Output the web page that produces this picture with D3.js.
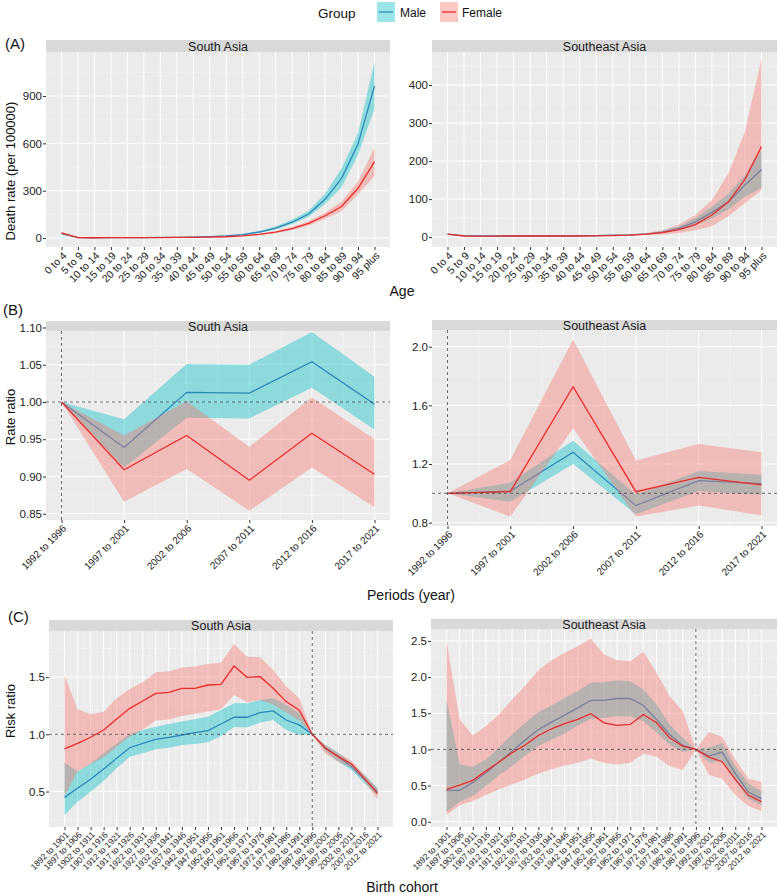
<!DOCTYPE html>
<html>
<head>
<meta charset="utf-8">
<script src="https://cdn.jsdelivr.net/npm/d3@7/dist/d3.min.js"></script>
<style>
  body { margin: 0; background: #fff; }
  text { font-family: "Liberation Sans", Arial, sans-serif; }
</style>
</head>
<body>
<div id="chart"></div>
<script>
// ---- categories ----
const ageGroups = ["0 to 4","5 to 9","10 to 14","15 to 19","20 to 24","25 to 29","30 to 34","35 to 39","40 to 44","45 to 49",
  "50 to 54","55 to 59","60 to 64","65 to 69","70 to 74","75 to 79","80 to 84","85 to 89","90 to 94","95 plus"];
const periods = ["1992 to 1996","1997 to 2001","2002 to 2006","2007 to 2011","2012 to 2016","2017 to 2021"];
const cohorts = ["1892 to 1901","1897 to 1906","1902 to 1911","1907 to 1916","1912 to 1921","1917 to 1926","1922 to 1931",
  "1927 to 1936","1932 to 1941","1937 to 1946","1942 to 1951","1947 to 1956","1952 to 1961","1957 to 1966","1962 to 1971",
  "1967 to 1976","1972 to 1981","1977 to 1986","1982 to 1991","1987 to 1996","1992 to 2001","1997 to 2006","2002 to 2011",
  "2007 to 2016","2012 to 2021"];
const groups = ["Male", "Female"];

// ---- (A) age effect, death rate per 100000 ----
const saAgeMale     = [28, 2, 1.5, 2, 2.5, 3, 3.5, 4.5, 6, 9, 14, 22, 38, 63, 100, 152, 245, 378, 595, 963];
const saAgeMaleHi   = [33, 2.5, 1.9, 2.5, 3.1, 3.7, 4.3, 5.5, 7.2, 10.8, 16.5, 26, 44, 73, 115, 172, 280, 440, 665, 1115];
const saAgeMaleLo   = [24, 1.6, 1.2, 1.6, 2, 2.4, 2.8, 3.6, 4.9, 7.4, 11.6, 18, 32, 54, 88, 135, 215, 322, 528, 820];
const saAgeFemale   = [33, 2, 1.5, 2, 2.5, 3, 3, 3.5, 4.5, 6, 8, 14, 23, 37, 60, 93, 141, 200, 315, 484];
const saAgeFemaleHi = [38, 2.5, 1.9, 2.5, 3.1, 3.7, 3.7, 4.3, 5.5, 7.2, 9.6, 16.5, 27, 43, 70, 106, 160, 230, 358, 572];
const saAgeFemaleLo = [28, 1.6, 1.2, 1.6, 2, 2.4, 2.4, 2.8, 3.7, 5, 6.6, 11.6, 19, 31, 51, 80, 122, 170, 278, 392];

const seaAgeMale     = [8, 3.5, 3, 3, 3, 3, 3, 3, 3.5, 4, 5, 6, 8, 13, 23, 40, 65, 93, 137, 178];
const seaAgeMaleHi   = [9, 4, 3.5, 3.5, 3.5, 3.5, 3.5, 3.5, 4, 4.6, 5.8, 7, 9.5, 16, 28, 50, 80, 115, 163, 228];
const seaAgeMaleLo   = [7, 3, 2.6, 2.6, 2.6, 2.6, 2.6, 2.6, 3, 3.5, 4.3, 5.1, 6.8, 10.5, 18, 31, 49, 73, 106, 130];
const seaAgeFemale   = [8, 3, 2.5, 2.5, 3, 3, 3, 3, 3, 3.5, 4, 5, 8, 12, 20, 33, 58, 93, 152, 238];
const seaAgeFemaleHi = [9, 4, 3.2, 3.3, 3.6, 3.6, 3.6, 3.6, 3.7, 4.3, 5, 6.5, 10.5, 18, 33, 58, 97, 168, 277, 470];
const seaAgeFemaleLo = [7, 2.3, 2, 2, 2.4, 2.4, 2.4, 2.4, 2.4, 2.8, 3.2, 3.8, 5.5, 7, 11, 18, 29, 55, 89, 124];

// ---- (B) period effect, rate ratio ----
const saPerMale     = [1.0, 0.939, 1.013, 1.012, 1.054, 0.997];
const saPerMaleHi   = [1.0, 0.977, 1.051, 1.050, 1.094, 1.034];
const saPerMaleLo   = [1.0, 0.912, 0.979, 0.978, 1.019, 0.963];
const saPerFemale   = [1.0, 0.909, 0.955, 0.895, 0.958, 0.903];
const saPerFemaleHi = [1.0, 0.955, 1.001, 0.940, 1.006, 0.950];
const saPerFemaleLo = [1.0, 0.866, 0.910, 0.854, 0.912, 0.859];

const seaPerMale     = [1.0, 1.015, 1.28, 0.916, 1.086, 1.066];
const seaPerMaleHi   = [1.0, 1.073, 1.359, 0.99, 1.152, 1.127];
const seaPerMaleLo   = [1.0, 0.943, 1.200, 0.857, 1.016, 0.99];
const seaPerFemale   = [1.0, 1.011, 1.727, 1.011, 1.109, 1.057];
const seaPerFemaleHi = [1.0, 1.227, 2.05, 1.223, 1.336, 1.28];
const seaPerFemaleLo = [1.0, 0.841, 1.443, 0.841, 0.916, 0.850];

// ---- (C) cohort effect, risk ratio ----
const saCohMale     = [0.449, 0.528, 0.607, 0.697, 0.79, 0.883, 0.921, 0.956, 0.974, 0.994, 1.015, 1.032, 1.09, 1.149, 1.149,
  1.189, 1.204, 1.125, 1.082, 1.0, 0.883, 0.805, 0.717, 0.607, 0.499];
const saCohMaleHi   = [0.752, 0.674, 0.746, 0.834, 0.921, 1.003, 1.038, 1.067, 1.09, 1.111, 1.131, 1.154, 1.213, 1.271, 1.271,
  1.3, 1.315, 1.256, 1.184, 1.0, 0.907, 0.84, 0.752, 0.645, 0.534];
const saCohMaleLo   = [0.295, 0.411, 0.499, 0.592, 0.703, 0.805, 0.834, 0.869, 0.883, 0.907, 0.916, 0.93, 0.985, 1.061, 1.061,
  1.102, 1.125, 1.038, 0.994, 1.0, 0.854, 0.761, 0.688, 0.572, 0.461];
const saCohFemale   = [0.872, 0.921, 0.974, 1.038, 1.134, 1.227, 1.291, 1.358, 1.367, 1.402, 1.402, 1.431, 1.437, 1.597, 1.498,
  1.504, 1.402, 1.286, 1.21, 1.0, 0.878, 0.805, 0.741, 0.615, 0.484];
const saCohFemaleHi = [1.519, 1.219, 1.175, 1.198, 1.315, 1.396, 1.455, 1.542, 1.548, 1.583, 1.592, 1.615, 1.626, 1.79, 1.679,
  1.673, 1.562, 1.417, 1.315, 1.0, 0.907, 0.834, 0.77, 0.645, 0.528];
const saCohFemaleLo = [0.46, 0.674, 0.74, 0.80, 0.89, 0.98, 1.04, 1.12, 1.13, 1.16, 1.18, 1.20, 1.22, 1.344, 1.28,
  1.30, 1.26, 1.19, 1.12, 1.0, 0.83, 0.76, 0.71, 0.59, 0.43];

const seaCohMale     = [0.434, 0.434, 0.54, 0.678, 0.825, 0.977, 1.129, 1.276, 1.378, 1.474, 1.575, 1.677, 1.677, 1.704, 1.704,
  1.608, 1.414, 1.207, 1.055, 1.0, 0.908, 0.963, 0.668, 0.411, 0.319];
const seaCohMaleHi   = [1.69, 0.793, 0.756, 0.862, 1.023, 1.207, 1.368, 1.516, 1.608, 1.714, 1.806, 1.921, 1.93, 1.953, 1.944,
  1.829, 1.622, 1.345, 1.161, 1.0, 1.023, 1.092, 0.77, 0.53, 0.424];
const seaCohMaleLo   = [0.134, 0.273, 0.355, 0.494, 0.641, 0.77, 0.917, 1.046, 1.138, 1.221, 1.331, 1.424, 1.437, 1.46, 1.46,
  1.391, 1.23, 1.069, 0.963, 1.0, 0.816, 0.839, 0.563, 0.319, 0.227];
const seaCohFemale   = [0.448, 0.507, 0.572, 0.70, 0.825, 0.954, 1.06, 1.193, 1.285, 1.355, 1.414, 1.493, 1.368, 1.331, 1.345,
  1.483, 1.368, 1.161, 1.046, 1.0, 0.894, 0.83, 0.586, 0.365, 0.277];
const seaCohFemaleHi = [2.496, 1.414, 1.193, 1.322, 1.483, 1.69, 1.884, 2.096, 2.234, 2.335, 2.427, 2.533, 2.312, 2.234, 2.22,
  2.349, 2.059, 1.737, 1.529, 1.0, 1.239, 1.175, 0.862, 0.595, 0.549];
const seaCohFemaleLo = [0.093, 0.227, 0.286, 0.369, 0.448, 0.517, 0.586, 0.668, 0.724, 0.779, 0.816, 0.871, 0.816, 0.793, 0.816,
  0.94, 0.899, 0.77, 0.715, 1.0, 0.645, 0.595, 0.369, 0.217, 0.148];

// ---- tick labels ----
const saAgeTicks = [0, 300, 600, 900];
const seaAgeTicks = [0, 100, 200, 300, 400];
const saPerTicks = [0.85, 0.90, 0.95, 1.00, 1.05, 1.10];
const seaPerTicks = [0.8, 1.2, 1.6, 2.0];
const saCohTicks = [0.5, 1.0, 1.5];
const seaCohTicks = [0.0, 0.5, 1.0, 1.5, 2.0, 2.5];

const maleLine = "#2b88bd", maleFill = "#00BFC4";
const femaleLine = "#ee2a2a", femaleFill = "#F8766D";

const svg = d3.select("#chart").append("svg")
  .attr("width", 779).attr("height", 894);

function panel(o) {
  const g = svg.append("g");
  const x = d3.scalePoint().domain(o.cats).range([o.x0 + 15.5, o.x1 - 15.5]);
  const y = d3.scaleLinear().domain(o.yDomain).range([o.bottom, o.top]);

  g.append("rect")
    .attr("x", o.x0).attr("y", o.top)
    .attr("width", o.x1 - o.x0).attr("height", o.bottom - o.top)
    .attr("fill", "#ebebeb");

  // minor grid
  const step = o.yTicks[1] - o.yTicks[0];
  const minorY = d3.range(o.yTicks[0] - step / 2, o.yDomain[1], step)
    .filter(v => v > o.yDomain[0] && v < o.yDomain[1]);
  g.selectAll(".ymin").data(minorY).join("line")
    .attr("x1", o.x0).attr("x2", o.x1)
    .attr("y1", d => y(d)).attr("y2", d => y(d))
    .attr("stroke", "#f6f6f6").attr("stroke-width", 0.5);
  if (o.xMinor) {
    const bw = x.step();
    g.selectAll(".xmin").data(o.cats.slice(1)).join("line")
      .attr("x1", d => x(d) - bw / 2).attr("x2", d => x(d) - bw / 2)
      .attr("y1", o.top).attr("y2", o.bottom)
      .attr("stroke", "#f6f6f6").attr("stroke-width", 0.5);
  }
  // major grid
  g.selectAll(".ymaj").data(o.yTicks.filter(v => v >= o.yDomain[0] && v <= o.yDomain[1])).join("line")
    .attr("x1", o.x0).attr("x2", o.x1)
    .attr("y1", d => y(d)).attr("y2", d => y(d))
    .attr("stroke", "#fff").attr("stroke-width", 1);
  g.selectAll(".xmaj").data(o.cats).join("line")
    .attr("x1", d => x(d)).attr("x2", d => x(d))
    .attr("y1", o.top).attr("y2", o.bottom)
    .attr("stroke", "#fff").attr("stroke-width", 1);

  // strip
  g.append("rect")
    .attr("x", o.x0).attr("y", o.top - o.stripH)
    .attr("width", o.x1 - o.x0).attr("height", o.stripH)
    .attr("fill", "#d9d9d9");
  g.append("text")
    .attr("x", (o.x0 + o.x1) / 2).attr("y", o.top - o.stripH / 2)
    .attr("dy", "0.36em").attr("text-anchor", "middle")
    .attr("font-size", 12.5).attr("fill", "#1a1a1a")
    .text(o.title);

  // ribbons and lines: male first, female drawn over it
  const series = [
    [o.male, o.maleLo, o.maleHi, maleFill, maleLine],
    [o.female, o.femaleLo, o.femaleHi, femaleFill, femaleLine]
  ];
  series.forEach(([mid, lo, hi, fill, stroke]) => {
    const area = d3.area()
      .x((d, i) => x(o.cats[i]))
      .y0((d, i) => y(lo[i]))
      .y1((d, i) => y(hi[i]));
    g.append("path").datum(mid).attr("d", area)
      .attr("fill", fill).attr("fill-opacity", 0.4);
    const line = d3.line()
      .x((d, i) => x(o.cats[i]))
      .y(d => y(d));
    g.append("path").datum(mid).attr("d", line)
      .attr("fill", "none").attr("stroke", stroke).attr("stroke-width", 1.3);
  });

  // reference lines
  if (o.hLine != null) {
    g.append("line")
      .attr("x1", o.x0).attr("x2", o.x1)
      .attr("y1", y(o.hLine)).attr("y2", y(o.hLine))
      .attr("stroke", "#444").attr("stroke-width", 0.8).attr("stroke-dasharray", "3,3");
  }
  if (o.vLine != null) {
    g.append("line")
      .attr("x1", x(o.cats[o.vLine])).attr("x2", x(o.cats[o.vLine]))
      .attr("y1", o.top).attr("y2", o.bottom)
      .attr("stroke", "#444").attr("stroke-width", 0.8).attr("stroke-dasharray", "3,3");
  }

  // axes
  const ya = g.append("g").attr("transform", `translate(${o.x0},0)`)
    .call(d3.axisLeft(y).tickValues(o.yTicks).tickSize(3).tickFormat(d3.format(o.fmt)));
  ya.select(".domain").remove();
  ya.selectAll("line").attr("stroke", "#333");
  ya.selectAll("text").attr("font-size", 11.5).attr("fill", "#222").attr("x", -4);

  const xa = g.append("g").attr("transform", `translate(0,${o.bottom})`)
    .call(d3.axisBottom(x).tickSize(3));
  xa.select(".domain").remove();
  xa.selectAll("line").attr("stroke", "#333");
  xa.selectAll("text")
    .attr("font-size", o.xFont).attr("fill", "#222")
    .attr("x", 0).attr("y", 0).attr("dy", "0.71em")
    .attr("transform", "translate(0,4) rotate(-45)")
    .style("text-anchor", "end");
}

// (A)
panel({ x0: 46, x1: 390, top: 52, bottom: 247, stripH: 12, title: "South Asia", cats: ageGroups,
  yDomain: [-57, 1179], yTicks: saAgeTicks, fmt: "d", xFont: 10.5,
  male: saAgeMale, maleLo: saAgeMaleLo, maleHi: saAgeMaleHi,
  female: saAgeFemale, femaleLo: saAgeFemaleLo, femaleHi: saAgeFemaleHi });
panel({ x0: 432, x1: 777, top: 52, bottom: 247, stripH: 12, title: "Southeast Asia", cats: ageGroups,
  yDomain: [-26, 487], yTicks: seaAgeTicks, fmt: "d", xFont: 10.5,
  male: seaAgeMale, maleLo: seaAgeMaleLo, maleHi: seaAgeMaleHi,
  female: seaAgeFemale, femaleLo: seaAgeFemaleLo, femaleHi: seaAgeFemaleHi });

// (B)
panel({ x0: 46, x1: 390, top: 331, bottom: 520, stripH: 10, title: "South Asia", cats: periods,
  yDomain: [0.8416, 1.0953], yTicks: saPerTicks, fmt: ".2f", xFont: 10, xMinor: true, hLine: 1, vLine: 0,
  male: saPerMale, maleLo: saPerMaleLo, maleHi: saPerMaleHi,
  female: saPerFemale, femaleLo: saPerFemaleLo, femaleHi: saPerFemaleHi });
panel({ x0: 432, x1: 777, top: 330, bottom: 526, stripH: 10, title: "Southeast Asia", cats: periods,
  yDomain: [0.777, 2.114], yTicks: seaPerTicks, fmt: ".1f", xFont: 10, xMinor: true, hLine: 1, vLine: 0,
  male: seaPerMale, maleLo: seaPerMaleLo, maleHi: seaPerMaleHi,
  female: seaPerFemale, femaleLo: seaPerFemaleLo, femaleHi: seaPerFemaleHi });

// (C)
panel({ x0: 49, x1: 393, top: 631, bottom: 827, stripH: 11, title: "South Asia", cats: cohorts,
  yDomain: [0.19, 1.903], yTicks: saCohTicks, fmt: ".1f", xFont: 8.5, xMinor: true, hLine: 1, vLine: 19,
  male: saCohMale, maleLo: saCohMaleLo, maleHi: saCohMaleHi,
  female: saCohFemale, femaleLo: saCohFemaleLo, femaleHi: saCohFemaleHi });
panel({ x0: 431, x1: 777, top: 629, bottom: 827, stripH: 10, title: "Southeast Asia", cats: cohorts,
  yDomain: [-0.073, 2.665], yTicks: seaCohTicks, fmt: ".1f", xFont: 8.5, xMinor: true, hLine: 1, vLine: 19,
  male: seaCohMale, maleLo: seaCohMaleLo, maleHi: seaCohMaleHi,
  female: seaCohFemale, femaleLo: seaCohFemaleLo, femaleHi: seaCohFemaleHi });

// panel tags
[["(A)", 5, 49], ["(B)", 3, 315], ["(C)", 8, 622]].forEach(([t, x, y]) => {
  svg.append("text").attr("x", x).attr("y", y).attr("font-size", 15).attr("fill", "#111").text(t);
});

// axis titles
[["Age", 402, 296], ["Periods (year)", 411, 600], ["Birth cohort", 402, 892]].forEach(([t, x, y]) => {
  svg.append("text").attr("x", x).attr("y", y).attr("text-anchor", "middle")
    .attr("font-size", 14).attr("fill", "#111").text(t);
});
[["Death rate (per 100000)", 171], ["Rate ratio", 417], ["Risk ratio", 711]].forEach(([t, cy]) => {
  svg.append("text").attr("transform", `translate(15,${cy}) rotate(-90)`)
    .attr("text-anchor", "middle").attr("font-size", 13).attr("fill", "#111").text(t);
});

// legend
svg.append("text").attr("x", 318).attr("y", 18).attr("font-size", 13.5).attr("fill", "#111").text("Group");
const keyX = [377, 440], labX = [400, 462];
groups.forEach((gname, i) => {
  svg.append("rect").attr("x", keyX[i]).attr("y", 2).attr("width", 18).attr("height", 20)
    .attr("fill", i === 0 ? maleFill : femaleFill).attr("fill-opacity", 0.4);
  svg.append("line").attr("x1", keyX[i] + 2).attr("x2", keyX[i] + 16).attr("y1", 12).attr("y2", 12)
    .attr("stroke", i === 0 ? maleLine : femaleLine).attr("stroke-width", 1.3);
  svg.append("text").attr("x", labX[i]).attr("y", 17).attr("font-size", 12).attr("fill", "#111").text(gname);
});
</script>
</body>
</html>
